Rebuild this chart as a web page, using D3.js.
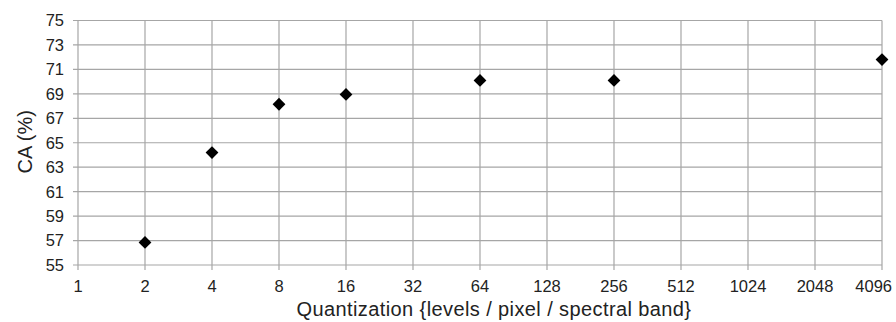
<!DOCTYPE html>
<html lang="en">
<head>
<meta charset="UTF-8">
<title>CA vs Quantization</title>
<script src="https://d3js.org/d3.v7.min.js"></script>
<style>
  body { margin: 0; background: #fff; }
  svg text { font-family: "Liberation Sans", Arial, sans-serif; fill: #222; }
</style>
</head>
<body>
<script>
// quantization levels (x) and classification accuracy (y)
const levels = [2, 4, 8, 16, 64, 256, 4096];
const accuracy = [56.85, 64.2, 68.15, 68.95, 70.1, 70.1, 71.8];
const xTicks = [1, 2, 4, 8, 16, 32, 64, 128, 256, 512, 1024, 2048, 4096];
const yTicks = [55, 57, 59, 61, 63, 65, 67, 69, 71, 73, 75];

const width = 896, height = 322;
const margin = {top: 20.5, right: 14, bottom: 57, left: 78};

const svg = d3.select("body").append("svg")
    .attr("width", width)
    .attr("height", height);

const x = d3.scaleLog().base(2)
    .domain([1, 4096])
    .range([margin.left, width - margin.right]);

const y = d3.scaleLinear()
    .domain([55, 75])
    .range([height - margin.bottom, margin.top]);

const gridColor = "#a6a6a6";

// horizontal gridlines
svg.append("g")
  .selectAll("line")
  .data(yTicks)
  .enter().append("line")
    .attr("x1", x(1) - 5)
    .attr("x2", x(4096))
    .attr("y1", d => y(d))
    .attr("y2", d => y(d))
    .attr("stroke", gridColor)
    .attr("stroke-width", 1.2);

// vertical gridlines
svg.append("g")
  .selectAll("line")
  .data(xTicks)
  .enter().append("line")
    .attr("x1", d => x(d))
    .attr("x2", d => x(d))
    .attr("y1", y(75))
    .attr("y2", y(55) + 5)
    .attr("stroke", gridColor)
    .attr("stroke-width", 1.2);

// tick labels
svg.append("g")
  .selectAll("text")
  .data(yTicks)
  .enter().append("text")
    .attr("x", x(1) - 14)
    .attr("y", d => y(d))
    .attr("dy", "0.36em")
    .attr("text-anchor", "end")
    .attr("font-size", 16.5)
    .attr("fill", "#2a2a2a")
    .text(d => d);

// last label is pushed inside the picture, like the original
svg.append("g")
  .selectAll("text")
  .data(xTicks)
  .enter().append("text")
    .attr("x", d => d === 4096 ? width - 4 : x(d))
    .attr("y", y(55) + 27)
    .attr("text-anchor", d => d === 4096 ? "end" : "middle")
    .attr("font-size", 16.5)
    .attr("fill", "#2a2a2a")
    .text(d => d);

// axis titles
svg.append("text")
    .attr("x", 494)
    .attr("y", 316)
    .attr("text-anchor", "middle")
    .attr("font-size", 20)
    .attr("letter-spacing", 0.4)
    .text("Quantization {levels / pixel / spectral band}");

svg.append("text")
    .attr("transform", `translate(32, ${(y(55) + y(75)) / 2 - 1}) rotate(-90)`)
    .attr("text-anchor", "middle")
    .attr("font-size", 20)
    .text("CA (%)");

// diamond markers
svg.append("g")
  .selectAll("path")
  .data(levels)
  .enter().append("path")
    .attr("d", d3.symbol().type(d3.symbolSquare).size(82))
    .attr("transform", (d, i) => `translate(${x(d)},${y(accuracy[i])}) rotate(45)`)
    .attr("fill", "#000");
</script>
</body>
</html>
